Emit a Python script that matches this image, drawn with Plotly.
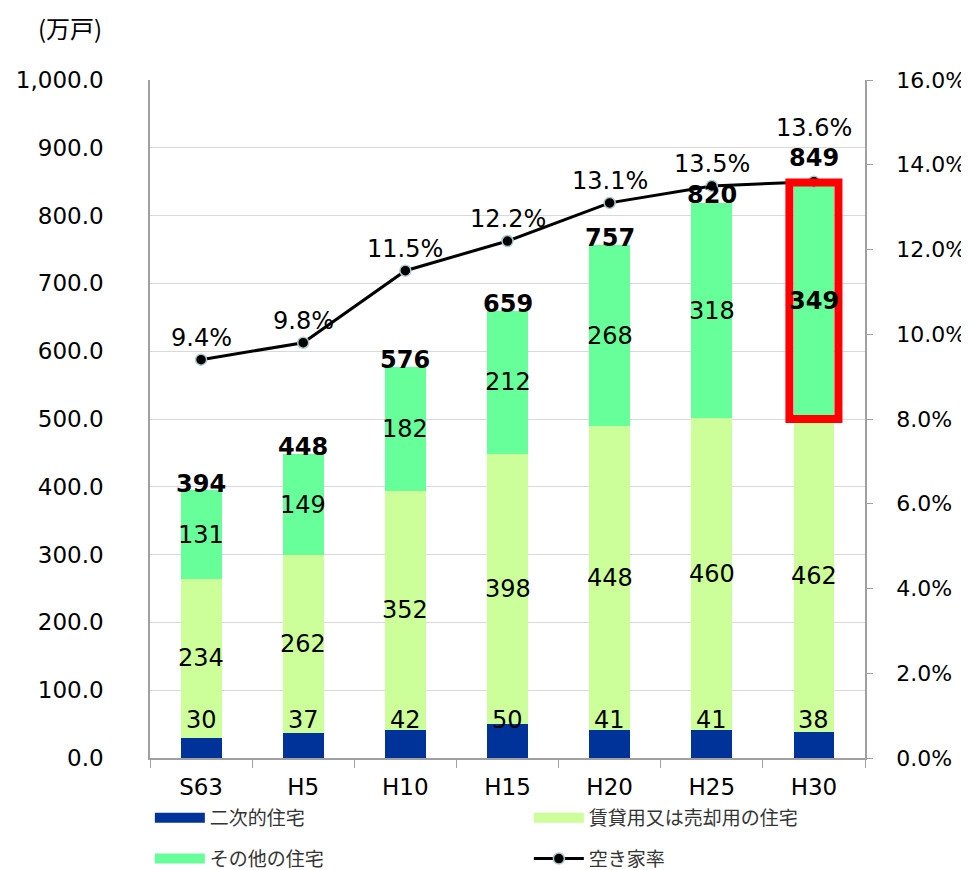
import plotly.graph_objects as go

categories = ["S63", "H5", "H10", "H15", "H20", "H25", "H30"]
second_homes = [30, 37, 42, 50, 41, 41, 38]
rental_sale = [234, 262, 352, 398, 448, 460, 462]
other_homes = [131, 149, 182, 212, 268, 318, 349]
totals = [394, 448, 576, 659, 757, 820, 849]
vacancy_rate = [0.094, 0.098, 0.115, 0.122, 0.131, 0.135, 0.136]

names = ["二次的住宅", "賃貸用又は売却用の住宅", "その他の住宅", "空き家率"]
colors = ["#003399", "#CCFF99", "#66FF99"]
highlight = 6  # H30 highlighted

NUM_FONT = "DejaVu Sans"
JP_FONT = "Noto Sans CJK JP"

fig = go.Figure()
for vals, name, col in zip([second_homes, rental_sale, other_homes], names[:3], colors):
    fig.add_trace(go.Bar(x=categories, y=vals, name=name, marker=dict(color=col, line=dict(width=0)),
                         width=0.4, hoverinfo="y+name", showlegend=False))

fig.add_trace(go.Scatter(x=categories, y=vacancy_rate, name=names[3], yaxis="y2",
                         mode="lines+markers", showlegend=False,
                         line=dict(color="black", width=3),
                         marker=dict(color="black", size=11, line=dict(color="#A9C9CF", width=1.5))))

# legend entries (wide colour swatches like the original), two rows via two legends
legend_of = ["legend", "legend", "legend2", "legend2"]
for k, (name, col) in enumerate(zip(names[:3], colors)):
    fig.add_trace(go.Scatter(x=[None], y=[None], name=name, mode="lines",
                             line=dict(color=col, width=15), legend=legend_of[k], hoverinfo="skip"))
fig.add_trace(go.Scatter(x=[None], y=[None], name=names[3], mode="lines+markers", yaxis="y2",
                         line=dict(color="black", width=3), legend=legend_of[3],
                         marker=dict(color="black", size=11, line=dict(color="#A9C9CF", width=1.5)),
                         hoverinfo="skip"))

ann = []
lab_font = dict(family=NUM_FONT, size=24, color="black")
for i, c in enumerate(categories):
    ann.append(dict(x=c, y=56, xref="x", yref="y", text=str(second_homes[i]), showarrow=False,
                    font=lab_font))
    ann.append(dict(x=c, y=second_homes[i] + rental_sale[i] / 2, xref="x", yref="y",
                    text=str(rental_sale[i]), showarrow=False, font=lab_font))
    base = second_homes[i] + rental_sale[i]
    ann.append(dict(x=c, y=base + other_homes[i] / 2, xref="x", yref="y",
                    text=(f"<b>{other_homes[i]}</b>" if i == highlight else str(other_homes[i])),
                    showarrow=False, font=lab_font))
    ann.append(dict(x=c, y=totals[i], xref="x", yref="y", text=f"<b>{totals[i]}</b>",
                    showarrow=False, font=lab_font, yanchor="middle",
                    yshift=(24 if i == highlight else 7)))
    ann.append(dict(x=c, y=vacancy_rate[i], xref="x", yref="y2", text=f"{vacancy_rate[i]*100:.1f}%",
                    showarrow=False, font=lab_font, yanchor="middle",
                    yshift=(54 if i == highlight else 22)))

ann.append(dict(x=-0.112, y=1.077, xref="paper", yref="paper", text="(万戸)", showarrow=False,
                xanchor="center", yanchor="middle",
                font=dict(family=JP_FONT, size=24, color="black")))

hb = second_homes[highlight] + rental_sale[highlight]
shapes = [dict(type="rect", xref="x", yref="y", x0=highlight - 0.24, x1=highlight + 0.24,
               y0=hb, y1=totals[highlight], line=dict(color="#FF0000", width=8),
               fillcolor="rgba(0,0,0,0)", layer="above")]

leg_common = dict(orientation="h", xanchor="left",
                  entrywidth=314, entrywidthmode="pixels", traceorder="normal",
                  font=dict(family=JP_FONT, size=19, color="#333333"), itemwidth=50,
                  bgcolor="rgba(0,0,0,0)")

fig.update_layout(
    width=969, height=882,
    margin=dict(l=142, r=112, t=72, b=132),
    barmode="stack",
    plot_bgcolor="white", paper_bgcolor="white",
    showlegend=True,
    legend=dict(x=-0.0002, y=-0.0885, yanchor="middle", **leg_common),
    legend2=dict(x=-0.0002, y=-0.1765, yanchor="bottom", **leg_common),
    xaxis=dict(type="category", showline=True, linecolor="#A0A0A0", linewidth=1.5,
               ticks="outside", tickson="boundaries", ticklen=8, tickcolor="#A0A0A0",
               ticklabelstandoff=8, automargin=False,
               tickfont=dict(family=NUM_FONT, size=23, color="black"), showgrid=False),
    yaxis=dict(range=[0, 1000], dtick=100, tickformat=",.1f", showline=True, linecolor="#A0A0A0",
               linewidth=1.5, showgrid=True, gridcolor="#D9D9D9", gridwidth=1,
               ticks="", ticklabelstandoff=40, automargin=False,
               tickfont=dict(family=NUM_FONT, size=23, color="black"), zeroline=False),
    yaxis2=dict(range=[0, 0.16], dtick=0.02, tickformat=".1%", overlaying="y", side="right",
                showline=True, linecolor="#A0A0A0", linewidth=1.5, showgrid=False,
                ticks="outside", ticklen=6, tickcolor="#A0A0A0", ticklabelstandoff=19,
                automargin=False,
                tickfont=dict(family=NUM_FONT, size=22, color="black"), zeroline=False),
    annotations=ann,
    shapes=shapes,
)

fig.write_html("out.html")
